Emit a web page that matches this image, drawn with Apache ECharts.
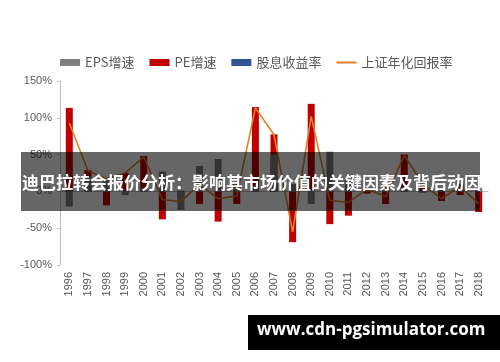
<!DOCTYPE html>
<html>
<head>
<meta charset="utf-8">
<script src="https://cdn.jsdelivr.net/npm/echarts@6/dist/echarts.min.js"></script>
<style>html,body{margin:0;padding:0;background:#fff}#c{width:500px;height:362px}</style>
</head>
<body>
<div id="c"></div>
<script>
var categories = ['1996','1997','1998','1999','2000','2001','2002','2003','2004','2005','2006','2007','2008','2009','2010','2011','2012','2013','2014','2015','2016','2017','2018'];
var epsGrowth = [-20.6, 20, 15, -5, 5, 27, -25, 34.5, 44, 10, 8, 50, 10, -17, 54, 15, 5, 8, 5, -2, 3, 10, 5];
var peGrowth = [113.5, 29, -19, 25, 48, -38, -10, -17, -41, -17, 114.5, 77.5, -69, 119, -44.5, -33, -3, -17, 50, 8, -13, -5, -28];
var dividendYield = [1, 1, 1, 1, 1, 1, 1, 2, 2, 2, 2, 1, 1, 2, 1, 1, 2, 2, 2, 2, 2, 2, 2];
var shReturn = [93, 28, 17, 25, 47, -11, -14, 10, -10, -6, 113.5, 77, -55, 102, -12, -15, 3, -7, 49, 10, -10, 7, -17];
var yTicks = {min: -100, max: 150, interval: 50};
var legendNames = ['EPS增速', 'PE增速', '股息收益率', '上证年化回报率'];
var bannerText = '迪巴拉转会报价分析：影响其市场价值的关键因素及背后动因';
var watermarkText = 'www.cdn-pgsimulator.com';

var chart = echarts.init(document.getElementById('c'), null, {renderer: 'canvas'});
var cjk = '"Noto Sans CJK SC", "Noto Sans", sans-serif';
chart.setOption({
  animation: false,
  backgroundColor: '#ffffff',
  textStyle: {fontFamily: cjk},
  legend: {
    left: 55, top: 51,
    itemWidth: 20, itemHeight: 7, itemGap: 15,
    textStyle: {color: '#595959', fontSize: 13, fontFamily: cjk},
    data: [
      {name: legendNames[0], icon: 'rect'},
      {name: legendNames[1], icon: 'rect'},
      {name: legendNames[2], icon: 'rect'},
      {name: legendNames[3], icon: 'path://M0,0L20,0L20,2L0,2Z'}
    ]
  },
  grid: {left: 60, right: 12, top: 81, bottom: 97, containLabel: false},
  xAxis: [{
    type: 'category', data: categories,
    axisLine: {onZero: true, lineStyle: {color: '#bfbfbf'}},
    axisTick: {show: false},
    axisLabel: {show: false}
  }, {
    type: 'category', data: categories, position: 'bottom',
    axisLine: {show: false, onZero: false},
    axisTick: {show: false},
    axisLabel: {rotate: 90, color: '#595959', fontSize: 11, margin: 7, fontFamily: 'Arial, "Liberation Sans", sans-serif'}
  }],
  yAxis: {
    type: 'value', min: yTicks.min, max: yTicks.max, interval: yTicks.interval,
    axisLine: {show: true, lineStyle: {color: '#bfbfbf'}},
    axisTick: {show: true, length: 3, lineStyle: {color: '#bfbfbf'}},
    splitLine: {show: false},
    axisLabel: {formatter: '{value}%', color: '#595959', fontSize: 11, margin: 8, fontFamily: 'Arial, "Liberation Sans", sans-serif'}
  },
  series: [
    {name: legendNames[1], type: 'bar', data: peGrowth, barWidth: 7, barGap: '-100%', itemStyle: {color: '#c00000'}, z: 2},
    {name: legendNames[2], type: 'bar', data: dividendYield, barWidth: 7, barGap: '-100%', itemStyle: {color: '#2f5597'}, z: 3},
    {name: legendNames[0], type: 'bar', data: epsGrowth, barWidth: 7, barGap: '-100%', itemStyle: {color: '#7f7f7f'}, z: 4},
    {name: legendNames[3], type: 'line', data: shReturn, symbol: 'none', lineStyle: {color: '#e0802a', width: 1.6}, itemStyle: {color: '#e0802a'}, z: 5}
  ],
  graphic: [
    {type: 'rect', left: 21, top: 152, z: 100, shape: {width: 459, height: 59}, style: {fill: 'rgba(0,0,0,0.6)'}},
    {type: 'text', left: 22, top: 174, z: 101, style: {text: bannerText, fill: '#ffffff', font: 'bold 17px ' + cjk}},
    {type: 'rect', left: 248, top: 315, z: 100, shape: {width: 252, height: 35}, style: {fill: '#000000'}},
    {type: 'text', left: 257, top: 322, z: 101, style: {text: watermarkText, fill: '#ffffff', font: 'bold 17px "Open Sans", "Noto Sans", sans-serif'}}
  ]
});
</script>
</body>
</html>
